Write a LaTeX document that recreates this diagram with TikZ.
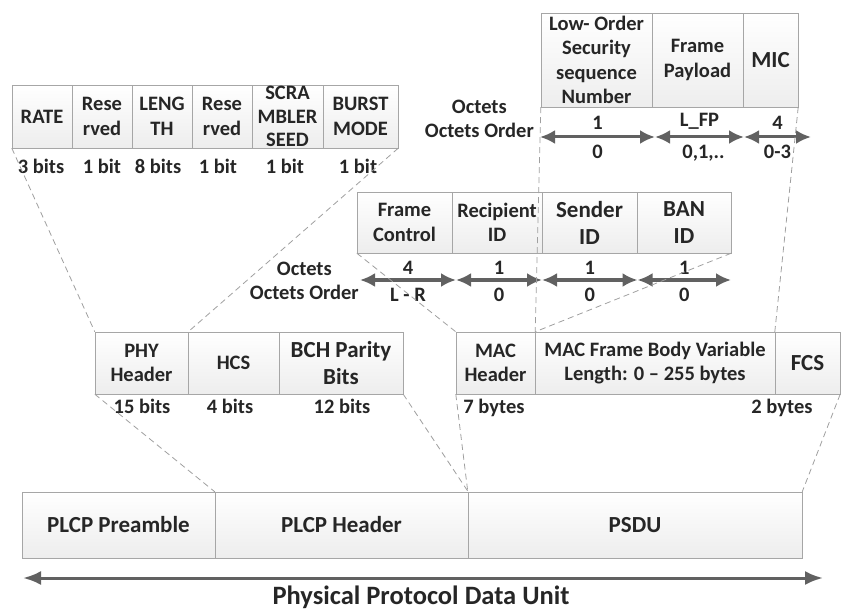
\documentclass[tikz,border=0pt]{standalone}
\usepackage{fontspec}
\setmainfont{Carlito}
\usetikzlibrary{arrows.meta}

\tikzset{
    cell/.style={draw=gray!70, top color=white, bottom color=gray!14, inner sep=0pt, align=center, text=black!85, font=\bfseries\fontsize{20.5}{24.5}\selectfont},
    big/.style={font=\bfseries\fontsize{23}{27}\selectfont},
    txt/.style={inner sep=0pt, align=center, text=black!85, font=\bfseries\fontsize{20.5}{24.5}\selectfont},
    link/.style={draw=gray!75, dash pattern=on 6pt off 4pt, line width=0.8pt},
    octet/.style={draw=black!62, line width=3pt, {Latex[length=15pt,width=14pt]}-{Latex[length=15pt,width=14pt]}},
    ppdu/.style={draw=black!62, line width=3pt, {Latex[length=18pt,width=14pt]}-{Latex[length=18pt,width=14pt]}}
}

\begin{document}
\begin{tikzpicture}[x=1pt, y=-1pt]
    \useasboundingbox (0,0) rectangle (842,609);

    % PHY header fields
    \node[cell, minimum width=60pt, minimum height=63pt] (rate) at (42,116.5) {RATE};
    \node[cell, minimum width=60pt, minimum height=63pt] (resa) at (102,116.5) {Rese\\rved};
    \node[cell, minimum width=60pt, minimum height=63pt] (leng) at (162,116.5) {LENG\\TH};
    \node[cell, minimum width=60pt, minimum height=63pt] (resb) at (222,116.5) {Rese\\rved};
    \node[cell, minimum width=71pt, minimum height=63pt] (scram) at (287.5,116.5) {};
    \node[txt, font=\bfseries\fontsize{20.5}{23.5}\selectfont] (scramtxt) at (scram) {SCRA\\MBLER\\SEED};
    \node[cell, minimum width=75pt, minimum height=63pt] (burst) at (360.5,116.5) {BURST\\MODE};

    \node[txt, anchor=base] (bits1) at (41,173.5) {3 bits};
    \node[txt, anchor=base] (bits2) at (102,173.5) {1 bit};
    \node[txt, anchor=base] (bits3) at (158,173.5) {8 bits};
    \node[txt, anchor=base] (bits4) at (218,173.5) {1 bit};
    \node[txt, anchor=base] (bits5) at (285,173.5) {1 bit};
    \node[txt, anchor=base] (bits6) at (358,173.5) {1 bit};

    % Frame body fields
    \node[cell, minimum width=111pt, minimum height=94pt] (lowo) at (596.5,60) {};
    \node[txt] (lowotxt) at (lowo) {Low- Order\\Security\\sequence\\Number};
    \node[cell, minimum width=91pt, minimum height=94pt] (payload) at (697.5,60) {Frame\\Payload};
    \node[cell, big, minimum width=55pt, minimum height=94pt] (mic) at (770.5,60) {MIC};

    \node[txt, anchor=east] (octu) at (534,119) {Octets\\Octets Order};
    \coordinate (u0) at (540,137);
    \coordinate (u1) at (655,137);
    \coordinate (u2) at (744,137);
    \coordinate (u3) at (811,137);

    % MAC header fields
    \node[cell, minimum width=95pt, minimum height=61pt] (fctrl) at (404.5,222.5) {Frame\\Control};
    \node[cell, minimum width=90pt, minimum height=61pt] (recip) at (497,222.5) {Recipient\\ID};
    \node[cell, big, minimum width=95pt, minimum height=61pt] (sender) at (589.5,222.5) {Sender\\ID};
    \node[cell, big, minimum width=94pt, minimum height=61pt] (ban) at (684,222.5) {BAN\\ID};

    \node[txt, anchor=east] (octm) at (359,281) {Octets\\Octets Order};
    \coordinate (m0) at (360,280);
    \coordinate (m1) at (456,280);
    \coordinate (m2) at (542,280);
    \coordinate (m3) at (637.5,280);
    \coordinate (m4) at (731,280);

    % PLCP header
    \node[cell, minimum width=93pt, minimum height=62pt] (phyh) at (141.5,363) {PHY\\Header};
    \node[cell, minimum width=91pt, minimum height=62pt] (hcs) at (233.5,363) {HCS};
    \node[cell, big, minimum width=124pt, minimum height=62pt] (bch) at (341,363) {BCH Parity\\Bits};

    \node[txt, anchor=base] (bits7) at (142,413.5) {15 bits};
    \node[txt, anchor=base] (bits8) at (230,413.5) {4 bits};
    \node[txt, anchor=base] (bits9) at (342,413.5) {12 bits};

    % MAC frame
    \node[cell, minimum width=79pt, minimum height=62pt] (mach) at (495.5,363) {MAC\\Header};
    \node[cell, minimum width=240pt, minimum height=62pt] (body) at (655,363) {MAC Frame Body Variable\\Length: 0 -- 255 bytes};
    \node[cell, big, minimum width=65pt, minimum height=62pt] (fcs) at (807.5,363) {FCS};

    \node[txt, anchor=base] (bytes1) at (494,413.5) {7 bytes};
    \node[txt, anchor=base] (bytes2) at (782,413.5) {2 bytes};

    % PPDU
    \node[cell, big, minimum width=193pt, minimum height=66pt] (pre) at (118.5,525) {PLCP Preamble};
    \node[cell, big, minimum width=253pt, minimum height=66pt] (plcph) at (341.5,525) {PLCP Header};
    \node[cell, big, minimum width=334pt, minimum height=66pt] (psdu) at (635,525) {PSDU};

    \coordinate (p0) at (23,578);
    \coordinate (p1) at (823,578);
    \node[txt, font=\bfseries\fontsize{26.5}{30}\selectfont, anchor=base] (title) at (421,604) {Physical Protocol Data Unit};

    % Draw arrows
    \draw[octet] (u0) -- (u1) node[txt, midway, yshift=14pt] (nu1) {1} node[txt, midway, yshift=-15pt] (ou1) {0};
    \draw[octet] (u1) -- (u2) node[txt, midway, yshift=16pt] (nu2) {L\_FP} node[txt, midway, xshift=4pt, yshift=-16pt] (ou2) {0,1,..};
    \draw[octet] (u2) -- (u3) node[txt, midway, yshift=14pt] (nu3) {4} node[txt, midway, yshift=-15pt] (ou3) {0-3};

    \draw[octet] (m0) -- (m1) node[txt, midway, yshift=12pt] (nm1) {4} node[txt, midway, yshift=-15pt] (om1) {L - R};
    \draw[octet] (m1) -- (m2) node[txt, midway, yshift=12pt] (nm2) {1} node[txt, midway, yshift=-15pt] (om2) {0};
    \draw[octet] (m2) -- (m3) node[txt, midway, yshift=12pt] (nm3) {1} node[txt, midway, yshift=-15pt] (om3) {0};
    \draw[octet] (m3) -- (m4) node[txt, midway, yshift=12pt] (nm4) {1} node[txt, midway, yshift=-15pt] (om4) {0};

    \draw[ppdu] (p0) -- (p1);

    % Draw connections
    \draw[link] (rate.south west) -- (phyh.north west);
    \draw[link] (burst.south east) -- (phyh.north east);
    \draw[link] (lowo.south west) -- (mach.north east);
    \draw[link] (mic.south east) -- (fcs.north west);
    \draw[link] (fctrl.south west) -- (mach.north west);
    \draw[link] (ban.south east) -- (mach.north east);
    \draw[link] (phyh.south west) -- (plcph.north west);
    \draw[link] (bch.south east) -- (plcph.north east);
    \draw[link] (mach.south west) -- (psdu.north west);
    \draw[link] (fcs.south east) -- (psdu.north east);
\end{tikzpicture}
\end{document}
